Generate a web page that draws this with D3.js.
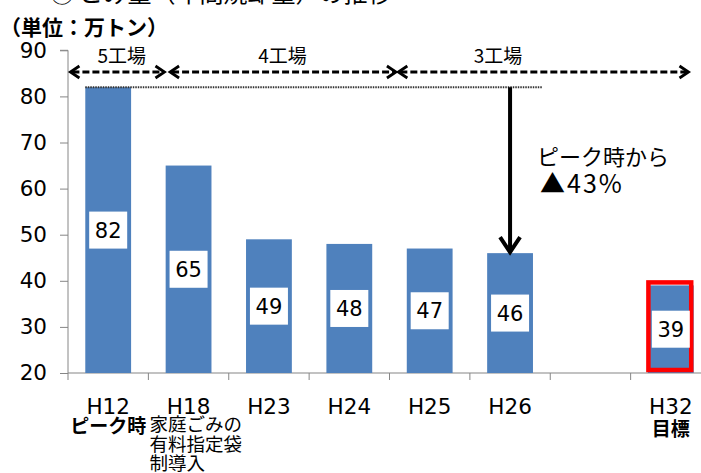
<!DOCTYPE html>
<html>
<head>
<meta charset="utf-8">
<script src="https://cdn.jsdelivr.net/npm/d3@7"></script>
<style>
  html, body { margin: 0; padding: 0; background: #fff; }
  svg { display: block; }
  text { font-family: "DejaVu Sans", sans-serif; fill: #000; }
  .jp { font-family: "Noto Sans CJK JP", sans-serif; }
</style>
</head>
<body>
<script>
// Annual waste volume (10,000 t) by fiscal year
const categories = ["H12", "H18", "H23", "H24", "H25", "H26", "", "H32"];
const values = [82, 65, 49, 48, 47, 46, null, 39];
const notes = [["ピーク時"], ["家庭ごみの", "有料指定袋", "制導入"], [], [], [], [], [], ["目標"]];
const boldNotes = [true, false, false, false, false, false, false, true];
const yTicks = [20, 30, 40, 50, 60, 70, 80, 90];
const targetCategory = "H32";

// Number of incineration plants in operation (spans in category steps)
const plantLabels = ["5工場", "4工場", "3工場"];
const plantFrom = [0.03, 1.27, 4.11];
const plantTo = [1.2, 4.08, 7.72];
const plantLabelAt = [0.67, 2.67, 5.35];

const reductionText = ["ピーク時から", "▲43%"];

const W = 701, H = 473;
const svg = d3.select("body").append("svg").attr("width", W).attr("height", H);

const x = d3.scaleBand().domain(categories).range([68, 711]).paddingInner(0.43).paddingOuter(0.215);
const y = d3.scaleLinear().domain([20, 90]).range([373, 50.3]);
const step = x.step();
const x0 = x.range()[0];
const gray = "#868686";

// Heading (partly above the visible area)
svg.append("text").attr("class", "jp").attr("x", 50).attr("y", 2)
  .style("font-size", "24px").text("③ ごみ量（年間焼却量）の推移");
svg.append("text").attr("class", "jp").attr("x", 0).attr("y", 35)
  .style("font-size", "21px").style("font-weight", "bold").text("（単位：万トン）");

// Y axis
const yAxis = svg.append("g").attr("transform", `translate(${x0},0)`)
  .call(d3.axisLeft(y).tickValues(yTicks).tickSize(8).tickPadding(13));
yAxis.select(".domain").attr("stroke", gray).attr("d", `M-8,${y(90)}H0V${y(20)}`);
yAxis.selectAll(".tick line").attr("stroke", gray);
yAxis.selectAll(".tick text").style("font-size", "21.5px").style("font-family", "DejaVu Sans").attr("fill", "#000");

// X axis line with ticks at band boundaries
svg.append("line").attr("x1", x0).attr("x2", W).attr("y1", y(20)).attr("y2", y(20))
  .attr("stroke", gray).attr("stroke-width", 1.2);
svg.selectAll(".xtick").data(d3.range(categories.length + 1)).join("line")
  .attr("x1", i => x0 + i * step).attr("x2", i => x0 + i * step)
  .attr("y1", y(20)).attr("y2", y(20) + 7)
  .attr("stroke", gray);

// Bars
const rows = categories.map((c, i) => ({ c, v: values[i], i })).filter(d => d.v != null);
svg.selectAll(".bar").data(rows).join("rect")
  .attr("x", d => x(d.c)).attr("width", x.bandwidth())
  .attr("y", d => y(d.v)).attr("height", d => y(20) - y(d.v))
  .attr("fill", "#4f81bd");

// Target outline
const tv = values[categories.indexOf(targetCategory)];
svg.append("rect")
  .attr("x", x(targetCategory) + 0.5).attr("width", x.bandwidth() - 3)
  .attr("y", y(tv) - 3).attr("height", y(20) - y(tv))
  .attr("fill", "none").attr("stroke", "#ff0000").attr("stroke-width", 4.5);

// Value labels in white boxes at the middle of each bar
const lab = svg.selectAll(".lab").data(rows).join("g")
  .attr("transform", d => `translate(${x(d.c) + x.bandwidth() / 2},${y((d.v + 20) / 2)})`);
lab.append("rect").attr("x", -19).attr("y", -18.5).attr("width", 38).attr("height", 37).attr("fill", "#fff");
lab.append("text").attr("text-anchor", "middle").attr("dy", "0.36em")
  .style("font-size", "21px").text(d => d.v);

// Category labels
categories.forEach((c, i) => {
  if (!c) return;
  const cx = x(c) + x.bandwidth() / 2;
  svg.append("text").attr("x", cx).attr("y", 414).attr("text-anchor", "middle")
    .style("font-size", "21.5px").text(c);
  const n = notes[i];
  if (boldNotes[i]) {
    svg.append("text").attr("class", "jp").attr("x", cx).attr("y", i === 0 ? 433 : 436)
      .attr("text-anchor", "middle").style("font-size", "19px").style("font-weight", "bold")
      .text(n[0]);
  } else {
    n.forEach((t, k) => {
      svg.append("text").attr("class", "jp").attr("x", x0 + i * step + 1).attr("y", 431 + k * 19.5)
        .style("font-size", "18.5px").text(t);
    });
  }
});

// Plant count spans with dashed double arrows
const ay = 72;
plantLabels.forEach((t, i) => {
  const a = x0 + plantFrom[i] * step, b = x0 + plantTo[i] * step;
  svg.append("line").attr("x1", a + 2).attr("x2", b - 2).attr("y1", ay).attr("y2", ay)
    .attr("stroke", "#000").attr("stroke-width", 2.8).attr("stroke-dasharray", "7,3");
  svg.append("path").attr("d", `M${a + 9},${ay - 6}L${a},${ay}L${a + 9},${ay + 6}`)
    .attr("fill", "none").attr("stroke", "#000").attr("stroke-width", 2.8);
  svg.append("path").attr("d", `M${b - 9},${ay - 6}L${b},${ay}L${b - 9},${ay + 6}`)
    .attr("fill", "none").attr("stroke", "#000").attr("stroke-width", 2.8);
  svg.append("text").attr("class", "jp").attr("x", x0 + plantLabelAt[i] * step).attr("y", 63)
    .attr("text-anchor", "middle").style("font-size", "19px").text(t);
});

// Peak reference line and drop arrow to H26
const peak = values[0];
const peakY = y(peak);
const h26 = "H26";
const ax = x(h26) + x.bandwidth() / 2;
svg.append("line").attr("x1", x(categories[0])).attr("x2", ax + 32).attr("y1", peakY).attr("y2", peakY)
  .attr("stroke", "#333").attr("stroke-width", 2).attr("stroke-dasharray", "1.5,1");
const endY = y(values[categories.indexOf(h26)]) - 1;
svg.append("line").attr("x1", ax).attr("x2", ax).attr("y1", peakY).attr("y2", endY)
  .attr("stroke", "#000").attr("stroke-width", 4);
svg.append("path").attr("d", `M${ax - 10},${endY - 15}L${ax},${endY}L${ax + 10},${endY - 15}`)
  .attr("fill", "none").attr("stroke", "#000").attr("stroke-width", 4);

svg.append("text").attr("class", "jp").attr("x", 537).attr("y", 165)
  .style("font-size", "22px").text(reductionText[0]);
svg.append("text").attr("class", "jp").attr("x", 540).attr("y", 193)
  .style("font-size", "25px").style("letter-spacing", "2px").text(reductionText[1]);
</script>
</body>
</html>
